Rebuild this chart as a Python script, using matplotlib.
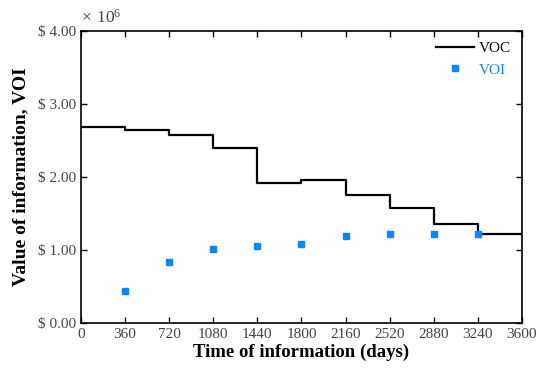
import matplotlib.pyplot as plt
from matplotlib.ticker import FuncFormatter

# decision times (days) and values in millions of dollars
time_edges = [0, 360, 720, 1080, 1440, 1800, 2160, 2520, 2880, 3240, 3600]
voc = [2.68, 2.65, 2.58, 2.40, 1.915, 1.955, 1.76, 1.575, 1.355, 1.22]
voi_times = [360, 720, 1080, 1440, 1800, 2160, 2520, 2880, 3240]
voi = [0.435, 0.83, 1.017, 1.058, 1.085, 1.195, 1.22, 1.22, 1.22]

plt.rcParams['font.family'] = ['Liberation Serif', 'DejaVu Serif']
plt.rcParams['mathtext.fontset'] = 'custom'
plt.rcParams['mathtext.rm'] = 'Liberation Serif'

fig = plt.figure(figsize=(5.38, 3.69), dpi=100)
ax = fig.add_axes([0.1506, 0.1247, 0.8194, 0.7913])

ax.step(time_edges, voc + [voc[-1]], where='post', color='black', lw=1.6, label='VOC')
ax.plot(voi_times, voi, 's', color='#0a84ff', ms=5, ls='none', label='VOI')

ax.set_xlim(0, 3600)
ax.set_ylim(0, 4)
ax.set_xticks(time_edges)
ax.set_yticks([0, 1, 2, 3, 4])
ax.yaxis.set_major_formatter(FuncFormatter(lambda v, p: '$ %.2f' % v))
ax.tick_params(direction='in', top=True, right=True, length=4, labelsize=11,
               labelcolor='#444444', width=1)
for s in ax.spines.values():
    s.set_linewidth(1.2)

ax.set_xlabel('Time of information (days)', fontsize=13.5, fontweight='bold', labelpad=2)
ax.set_ylabel('Value of information, VOI', fontsize=14, fontweight='bold', labelpad=6)
ax.text(0.0, 1.015, r'$\mathrm{\times\ 10^{6}}$', transform=ax.transAxes, fontsize=12.5,
        color='#444444', ha='left', va='bottom')

leg = ax.legend(loc='upper right', frameon=False, fontsize=11, handlelength=2.5,
                borderaxespad=0.3, handletextpad=0.3)
for t, c in zip(leg.get_texts(), ['black', '#0a84ff']):
    t.set_color(c)

fig.savefig('out.png', dpi=100)
